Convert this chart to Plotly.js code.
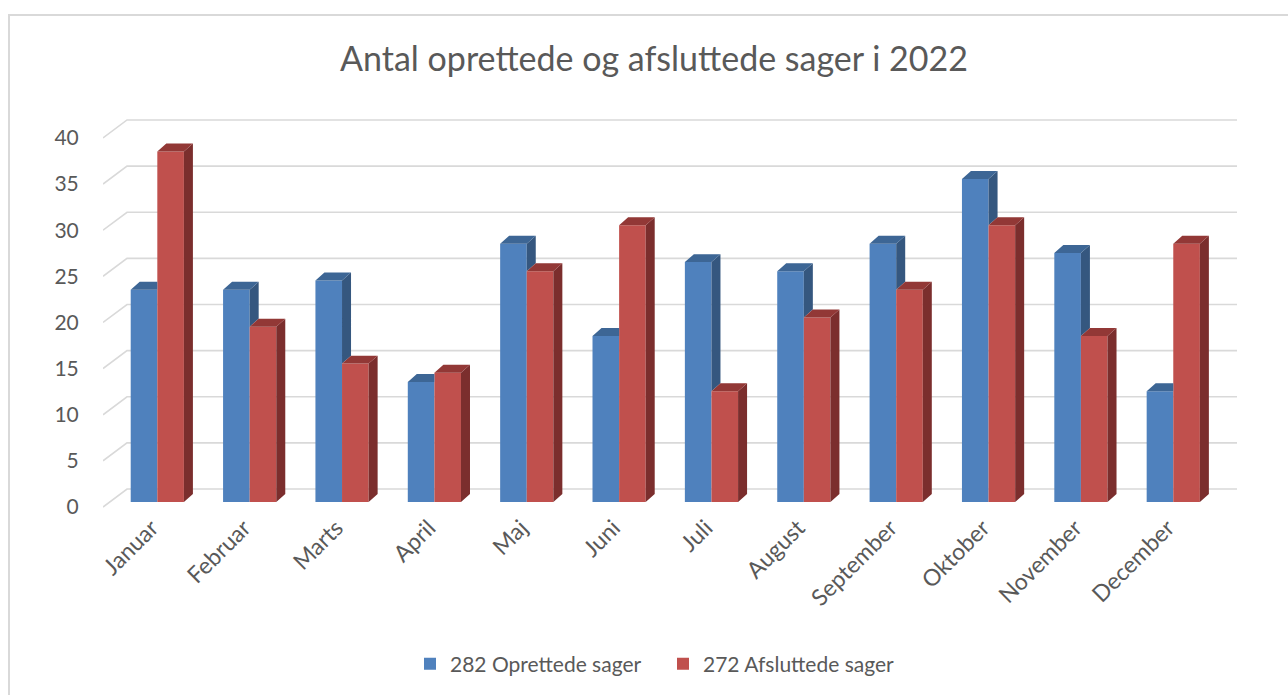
<!DOCTYPE html>
<html>
<head>
<meta charset="utf-8">
<script src="https://cdn.plot.ly/plotly-3.0.1.min.js"></script>
<style>
  html, body { margin: 0; padding: 0; background: #fff; }
  #wrap { position: relative; width: 1288px; height: 695px; overflow: hidden; }
  #chart { position: absolute; left: 0; top: 0; width: 1288px; height: 695px; }
  #frame { position: absolute; left: 8px; top: 14px; width: 1400px; height: 800px;
           border-top: 2px solid #D9D9D9; border-left: 2px solid #D9D9D9; pointer-events: none; }
</style>
</head>
<body>
<div id="wrap">
  <div id="chart"></div>
  <div id="frame"></div>
</div>
<script>
// ---- data ----
const months = ["Januar", "Februar", "Marts", "April", "Maj", "Juni", "Juli", "August",
                "September", "Oktober", "November", "December"];
const oprettede = [23, 23, 24, 13, 28, 18, 26, 25, 28, 35, 27, 12];
const afsluttede = [38, 19, 15, 14, 25, 30, 12, 20, 23, 30, 18, 28];
const seriesNames = ["282 Oprettede sager", "272 Afsluttede sager"];
const yTicks = [0, 5, 10, 15, 20, 25, 30, 35, 40];
const chartTitle = "Antal oprettede og afsluttede sager i 2022";

// ---- geometry of the pseudo-3D look (in axis units) ----
const FONT = "Lato, 'Open Sans', sans-serif";
const TXT = "#595959";
const xMin = -0.5, xMax = 11.778;
const yMin = -0.216, yMax = 44.11;
const barW = 0.288;
const blueOff = -0.2, redOff = blueOff + barW;
const barBase = 0.54;
const ddx = 0.0975, ddy = 0.865;      // bar depth
const gdx = 0.26, gdy = 1.946;        // wall depth for grid lines

const idx = months.map((m, i) => i);

// grid lines (front-left diagonal, then back wall), drawn below the bars
const gridShapes = yTicks.map(v => ({
  type: "path", xref: "x", yref: "y", layer: "below",
  path: "M " + xMin + "," + v + " L " + (xMin + gdx) + "," + (v + gdy) +
        " L " + xMax + "," + (v + gdy),
  line: {color: "#D9D9D9", width: 1.6}
}));

function faces(vals, off, other, isBack) {
  const sx = [], sy = [], tx = [], ty = [];
  vals.forEach((v, i) => {
    const xl = i + off, xr = xl + barW, top = barBase + v;
    let lo = barBase;
    let showSide = true;
    if (isBack) {
      const o = other[i];
      if (o >= v) showSide = false; else lo = barBase + o;
    }
    if (showSide) {
      sx.push(xr, xr + ddx, xr + ddx, xr, xr, null);
      sy.push(lo, lo + ddy, top + ddy, top, lo, null);
    }
    if (isBack && other[i] > v) {
      tx.push(xl, xl + ddx, xr, xr, xl, null);
      ty.push(top, top + ddy, top + ddy, top, top, null);
    } else {
      tx.push(xl, xl + ddx, xr + ddx, xr, xl, null);
      ty.push(top, top + ddy, top + ddy, top, top, null);
    }
  });
  return {sx, sy, tx, ty};
}

const bf = faces(oprettede, blueOff, afsluttede, true);
const rf = faces(afsluttede, redOff, oprettede, false);

function poly(x, y, color) {
  return {type: "scatter", mode: "lines", x, y, fill: "toself", fillcolor: color,
          line: {width: 0, color: color}, hoverinfo: "skip", showlegend: false};
}

const traces = [
  {type: "bar", name: seriesNames[0], x: idx, y: oprettede, base: barBase, width: barW,
   offset: blueOff, marker: {color: "#4F81BD", line: {width: 0}}},
  {type: "bar", name: seriesNames[1], x: idx, y: afsluttede, base: barBase, width: barW,
   offset: redOff, marker: {color: "#C0504D", line: {width: 0}}},
  poly(bf.sx, bf.sy, "#35577F"),
  poly(bf.tx, bf.ty, "#3D6695"),
  poly(rf.sx, rf.sy, "#7B2E2D"),
  poly(rf.tx, rf.ty, "#923836")
];

const layout = {
  width: 1288, height: 695,
  margin: {l: 103, r: 51, t: 100, b: 185},
  paper_bgcolor: "rgba(0,0,0,0)", plot_bgcolor: "rgba(0,0,0,0)",
  barmode: "overlay",
  font: {family: FONT, color: TXT},
  shapes: gridShapes,
  title: {text: chartTitle, font: {family: FONT, size: 34, color: TXT},
          xref: "container", x: 654 / 1288, yref: "container", y: 1 - 59 / 695,
          xanchor: "center", yanchor: "middle"},
  xaxis: {range: [xMin, xMax], tickvals: idx.map(i => i + blueOff + barW - 0.06), ticktext: months,
          tickangle: -45, showgrid: false, zeroline: false, showline: false,
          ticks: "", ticklen: 0,
          tickfont: {family: FONT, size: 23, color: TXT}, fixedrange: true},
  yaxis: {range: [yMin, yMax], tickvals: yTicks, showgrid: false, zeroline: false,
          showline: false, ticks: "outside", ticklen: 19, tickcolor: "rgba(0,0,0,0)",
          tickfont: {family: FONT, size: 21, color: TXT}, fixedrange: true},
  legend: {orientation: "h", x: (410 - 103) / 1134, xanchor: "left",
           y: -(664 - 510) / 410, yanchor: "middle", itemwidth: 30, entrywidth: 208,
           font: {family: FONT, size: 21, color: TXT}, traceorder: "normal"},
  showlegend: true
};

Plotly.newPlot("chart", traces, layout, {displayModeBar: false, staticPlot: true});
</script>
</body>
</html>
